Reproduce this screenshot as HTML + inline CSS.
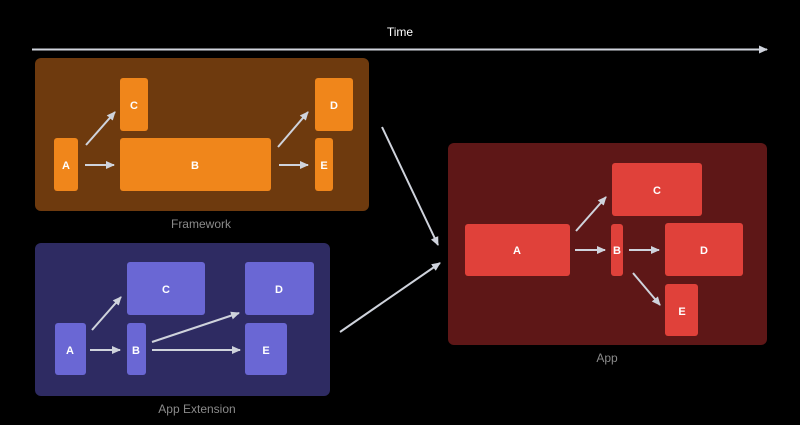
<!DOCTYPE html>
<html><head><meta charset="utf-8"><style>
html,body{margin:0;padding:0;background:#000;width:800px;height:425px;overflow:hidden}
svg{display:block}
text{font-family:"Liberation Sans",sans-serif}
</style></head><body>
<svg width="800" height="425" viewBox="0 0 800 425" xmlns="http://www.w3.org/2000/svg">
<defs>
<marker id="ah" markerWidth="10" markerHeight="10" refX="8" refY="5" orient="auto" markerUnits="userSpaceOnUse">
<path d="M0,1 L9,5 L0,9 Z" fill="#cfd3dc"/></marker>
</defs>
<rect width="800" height="425" fill="#000"/>
<text x="400" y="36" fill="#fff" font-size="12" text-anchor="middle">Time</text>
<line x1="32" y1="49.5" x2="767" y2="49.5" stroke="#cfd3dc" stroke-width="2" marker-end="url(#ah)"/>

<!-- Framework -->
<rect x="35" y="58" width="334" height="153" rx="6" fill="#6e3a0e"/>
<text x="201" y="228" fill="#8a8a8a" font-size="12" text-anchor="middle">Framework</text>
<g fill="#f0861b">
<rect x="54" y="138" width="24" height="53" rx="3"/>
<rect x="120" y="78" width="28" height="53" rx="3"/>
<rect x="120" y="138" width="151" height="53" rx="3"/>
<rect x="315" y="78" width="38" height="53" rx="3"/>
<rect x="315" y="138" width="18" height="53" rx="3"/>
</g>
<g fill="#fff" font-size="11" font-weight="bold" text-anchor="middle">
<text x="66" y="169">A</text><text x="134" y="109">C</text><text x="195" y="169">B</text><text x="334" y="109">D</text><text x="324" y="169">E</text>
</g>

<!-- App Extension -->
<rect x="35" y="243" width="295" height="153" rx="6" fill="#2e2b62"/>
<text x="197" y="413" fill="#8a8a8a" font-size="12" text-anchor="middle">App Extension</text>
<g fill="#6a67d4">
<rect x="55" y="323" width="31" height="52" rx="3"/>
<rect x="127" y="262" width="78" height="53" rx="3"/>
<rect x="127" y="323" width="19" height="52" rx="3"/>
<rect x="245" y="262" width="69" height="53" rx="3"/>
<rect x="245" y="323" width="42" height="52" rx="3"/>
</g>
<g fill="#fff" font-size="11" font-weight="bold" text-anchor="middle">
<text x="70" y="354">A</text><text x="166" y="293">C</text><text x="136" y="354">B</text><text x="279" y="293">D</text><text x="266" y="354">E</text>
</g>

<!-- App -->
<rect x="448" y="143" width="319" height="202" rx="6" fill="#5e1717"/>
<text x="607" y="362" fill="#8a8a8a" font-size="12" text-anchor="middle">App</text>
<g fill="#e0413a">
<rect x="465" y="224" width="105" height="52" rx="3"/>
<rect x="612" y="163" width="90" height="53" rx="3"/>
<rect x="611" y="224" width="12" height="52" rx="3"/>
<rect x="665" y="223" width="78" height="53" rx="3"/>
<rect x="665" y="284" width="33" height="52" rx="3"/>
</g>
<g fill="#fff" font-size="11" font-weight="bold" text-anchor="middle">
<text x="517" y="254">A</text><text x="657" y="194">C</text><text x="617" y="254">B</text><text x="704" y="254">D</text><text x="682" y="315">E</text>
</g>

<g stroke="#cfd3dc" stroke-width="2" marker-end="url(#ah)">
<line x1="86" y1="145" x2="115" y2="112"/>
<line x1="85" y1="165" x2="114" y2="165"/>
<line x1="278" y1="147" x2="308" y2="112"/>
<line x1="279" y1="165" x2="308" y2="165"/>
<line x1="92" y1="330" x2="121" y2="297"/>
<line x1="90" y1="350" x2="120" y2="350"/>
<line x1="152" y1="342" x2="239" y2="313"/>
<line x1="152" y1="350" x2="240" y2="350"/>
<line x1="576" y1="231" x2="606" y2="197"/>
<line x1="575" y1="250" x2="605" y2="250"/>
<line x1="629" y1="250" x2="659" y2="250"/>
<line x1="633" y1="273" x2="660" y2="305"/>
<line x1="382" y1="127" x2="438" y2="245"/>
<line x1="340" y1="332" x2="440" y2="263"/>
</g>
</svg>
</body></html>
